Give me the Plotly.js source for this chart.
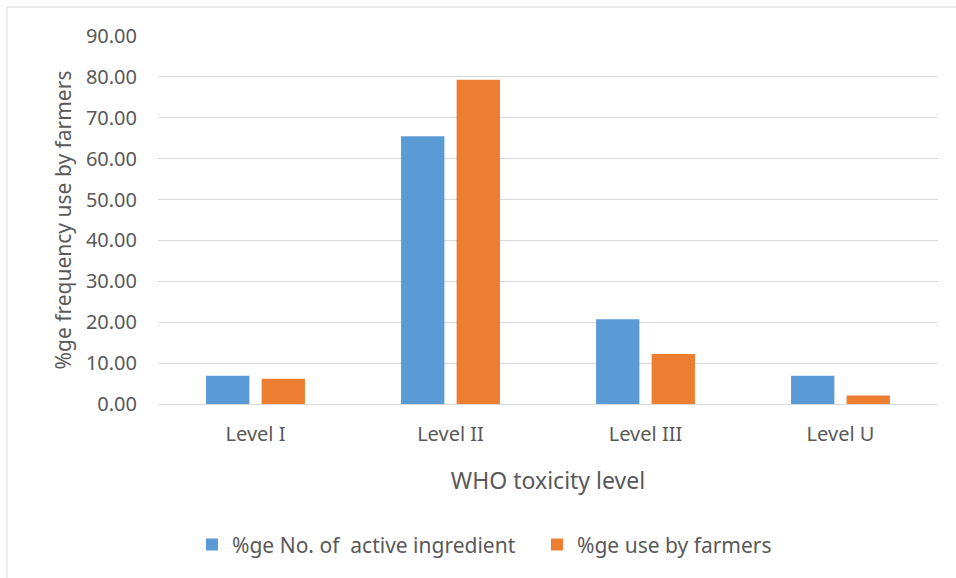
<!DOCTYPE html>
<html>
<head>
<meta charset="utf-8">
<script src="https://cdn.plot.ly/plotly-3.0.1.min.js"></script>
<style>html,body{margin:0;padding:0;background:#fff;}#chart{width:956px;height:578px;}</style>
</head>
<body>
<div id="chart"></div>
<script>
const categories = ["Level I", "Level II", "Level III", "Level U"];
const activeIngredient = [6.9, 65.5, 20.7, 6.9];
const useByFarmers = [6.2, 79.3, 12.2, 2.1];
const seriesNames = ["%ge No. of  active ingredient", "%ge use by farmers"];
const yTicks = [0, 10, 20, 30, 40, 50, 60, 70, 80, 90];

const FONT = "Noto Sans, Open Sans, sans-serif";
const TXT = "#595959";

const traces = [
  {type: "bar", x: categories, y: activeIngredient, name: seriesNames[0],
   marker: {color: "#5b9bd5"}, hoverinfo: "skip"},
  {type: "bar", x: categories, y: useByFarmers, name: seriesNames[1],
   marker: {color: "#ed7d31"}, hoverinfo: "skip"}
];

const layout = {
  width: 956, height: 578,
  margin: {l: 158, r: 18, t: 36, b: 174},
  paper_bgcolor: "#ffffff", plot_bgcolor: "#ffffff",
  font: {family: FONT, color: TXT, size: 20},
  barmode: "group", bargap: 0.43, bargroupgap: 0.22,
  showlegend: true,
  legend: {orientation: "h", x: 0.0436, xanchor: "left", y: -0.383, yanchor: "middle",
           font: {family: FONT, size: 21, color: TXT}, itemwidth: 30, traceorder: "normal",
           entrywidth: 300},
  xaxis: {
    showgrid: false, zeroline: false, showline: false, ticks: "",
    tickfont: {family: FONT, size: 20, color: TXT},
    ticklabelstandoff: 16,
    title: {text: "WHO toxicity level", font: {family: FONT, size: 23, color: TXT}, standoff: 26}
  },
  yaxis: {
    range: [0, 90], tickvals: yTicks, ticktext: yTicks.map(v => v.toFixed(2)),
    showgrid: true, gridcolor: "#d9d9d9", gridwidth: 1,
    zeroline: true, zerolinecolor: "#d9d9d9", zerolinewidth: 1,
    showline: false, ticks: "",
    tickfont: {family: FONT, size: 20, color: TXT},
    ticklabelstandoff: 20,
    title: {text: "%ge frequency use by farmers", font: {family: FONT, size: 21, color: TXT}, standoff: 8}
  },
  shapes: [
    {type: "rect", xref: "paper", yref: "paper", x0: -0.1936, x1: 1.3, y0: -0.6, y1: 1.0788,
     line: {color: "#d9d9d9", width: 1}, fillcolor: "rgba(0,0,0,0)", layer: "below"}
  ]
};

Plotly.newPlot("chart", traces, layout, {displayModeBar: false, staticPlot: true});
</script>
</body>
</html>
